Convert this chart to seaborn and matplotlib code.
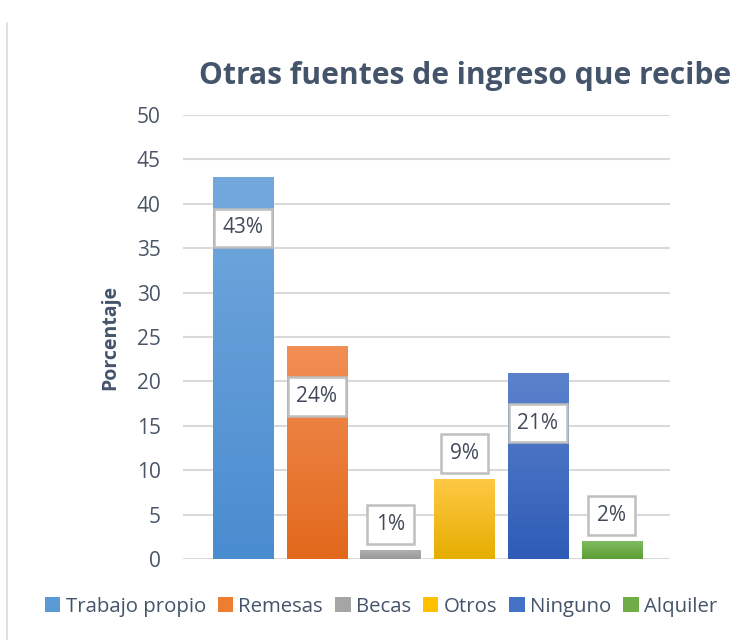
import numpy as np
import pandas as pd
import matplotlib
matplotlib.use("Agg")
import matplotlib.pyplot as plt
import seaborn as sns
from matplotlib.patches import Patch
from matplotlib.colors import LinearSegmentedColormap
from matplotlib.lines import Line2D

categories = ["Trabajo propio", "Remesas", "Becas", "Otros", "Ninguno", "Alquiler"]
values = [43, 24, 1, 9, 21, 2]
labels = ["43%", "24%", "1%", "9%", "21%", "2%"]
top_colors = ["#73A8DD", "#F28F55", "#B0B0B0", "#FFC845", "#5C82CC", "#80BA62"]
bot_colors = ["#4A8CD0", "#E2681C", "#999999", "#E6AE00", "#2E5CB6", "#5C9F33"]
legend_colors = ["#5B9BD5", "#ED7D31", "#A5A5A5", "#FFC000", "#4472C4", "#70AD47"]

sns.set_theme(style="white")
plt.rcParams['font.family'] = ['Open Sans', 'DejaVu Sans']

fig = plt.figure(figsize=(7.48, 6.4), dpi=100)
ax = fig.add_axes([183/748, 1-559/640, 487/748, 444/640])

df = pd.DataFrame({"cat": categories, "val": values})
sns.barplot(data=df, x="cat", y="val", hue="cat", palette=legend_colors,
            width=0.82, ax=ax, legend=False, saturation=1)

ax.set_ylim(0, 50)
ax.set_xlim(-0.814, 5.79)
ax.set_yticks(range(0, 51, 5))
ax.set_xticks([])
ax.set_xlabel("")
ax.set_ylabel("Porcentaje", fontsize=14, fontweight="bold", color="#44546A", labelpad=12)
ax.tick_params(axis="y", labelsize=15, colors="#4A5568", length=0, pad=16)
for s in ax.spines.values():
    s.set_visible(False)
ax.yaxis.grid(True, color="#D9D9D9", linewidth=1.5)
ax.set_axisbelow(True)

# gradients
for i, p in enumerate(ax.patches):
    x0, y0 = p.get_x(), p.get_y()
    w, h = p.get_width(), p.get_height()
    cmap = LinearSegmentedColormap.from_list("g", [bot_colors[i], top_colors[i]])
    grad = np.linspace(0, 1, 100).reshape(-1, 1)
    im = ax.imshow(grad, extent=[x0, x0 + w, y0, y0 + h], origin="lower",
                   cmap=cmap, aspect="auto", zorder=p.get_zorder() + 0.1)
    im.set_clip_path(p)

for i, (v, lab) in enumerate(zip(values, labels)):
    ypos = v - 5.7 if v > 15 else v + 2.9
    ax.text(i, ypos, lab, ha="center", va="center", fontsize=15, color="#404A5A",
            zorder=10,
            bbox=dict(boxstyle="square,pad=0.42", facecolor="white",
                      edgecolor="#BFBFBF", linewidth=1.8))

fig.text(199/748, 1-76/640, "Otras fuentes de ingreso que recibe", ha="left", va="center",
         fontsize=21.6, fontweight="bold", color="#44546A")

handles = [Patch(facecolor=c, edgecolor="none") for c in legend_colors]
fig.legend(handles, categories, loc="center", bbox_to_anchor=(381/748, 1-607/640),
           ncol=6, frameon=False, fontsize=14.7, handlelength=0.75, handleheight=0.75,
           handletextpad=0.25, columnspacing=0.6, labelcolor="#44546A")

fig.add_artist(Line2D([7/748, 7/748], [0, 1-23/640], color="#D9D9D9", linewidth=1.2,
                      transform=fig.transFigure))

fig.savefig("out.png", dpi=100)
